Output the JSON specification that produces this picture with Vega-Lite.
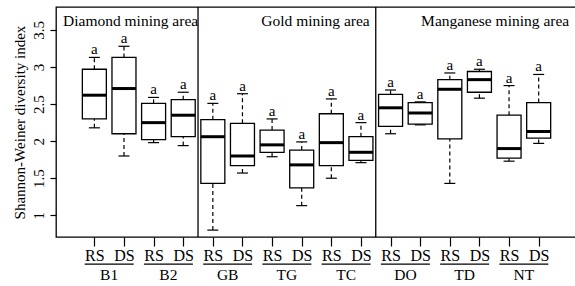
{
  "$schema": "https://vega.github.io/schema/vega-lite/v6.json",
  "width": 525,
  "height": 230,
  "autosize": {"type": "none"},
  "padding": {"left": 56, "top": 7, "right": 0, "bottom": 49},
  "background": "white",
  "config": {
    "font": "Liberation Serif",
    "view": {"stroke": "#000", "strokeWidth": 1.3},
    "axis": {"domain": false, "grid": false, "tickColor": "#000", "labelColor": "#000", "titleColor": "#000", "labelFont": "Liberation Serif", "titleFont": "Liberation Serif"},
    "text": {"font": "Liberation Serif", "color": "#000"}
  },
  "datasets": {
    "boxes": [
      {"site": "B1", "trt": "RS", "p": 1, "min": 2.18, "q1": 2.30, "med": 2.62, "q3": 2.97, "max": 3.13},
      {"site": "B1", "trt": "DS", "p": 2, "min": 1.80, "q1": 2.10, "med": 2.71, "q3": 3.13, "max": 3.28},
      {"site": "B2", "trt": "RS", "p": 3, "min": 1.98, "q1": 2.02, "med": 2.25, "q3": 2.51, "max": 2.59},
      {"site": "B2", "trt": "DS", "p": 4, "min": 1.94, "q1": 2.06, "med": 2.35, "q3": 2.56, "max": 2.66},
      {"site": "GB", "trt": "RS", "p": 5, "min": 0.80, "q1": 1.43, "med": 2.06, "q3": 2.29, "max": 2.51},
      {"site": "GB", "trt": "DS", "p": 6, "min": 1.57, "q1": 1.67, "med": 1.80, "q3": 2.24, "max": 2.64},
      {"site": "TG", "trt": "RS", "p": 7, "min": 1.79, "q1": 1.85, "med": 1.95, "q3": 2.15, "max": 2.30},
      {"site": "TG", "trt": "DS", "p": 8, "min": 1.13, "q1": 1.37, "med": 1.68, "q3": 1.88, "max": 1.99},
      {"site": "TC", "trt": "RS", "p": 9, "min": 1.50, "q1": 1.67, "med": 1.98, "q3": 2.37, "max": 2.57},
      {"site": "TC", "trt": "DS", "p": 10, "min": 1.71, "q1": 1.74, "med": 1.85, "q3": 2.06, "max": 2.25},
      {"site": "DO", "trt": "RS", "p": 11, "min": 2.10, "q1": 2.20, "med": 2.45, "q3": 2.63, "max": 2.69},
      {"site": "DO", "trt": "DS", "p": 12, "min": 2.22, "q1": 2.23, "med": 2.38, "q3": 2.52, "max": 2.53},
      {"site": "TD", "trt": "RS", "p": 13, "min": 1.43, "q1": 2.03, "med": 2.70, "q3": 2.83, "max": 2.92},
      {"site": "TD", "trt": "DS", "p": 14, "min": 2.58, "q1": 2.66, "med": 2.83, "q3": 2.94, "max": 2.97},
      {"site": "NT", "trt": "RS", "p": 15, "min": 1.73, "q1": 1.77, "med": 1.90, "q3": 2.35, "max": 2.75},
      {"site": "NT", "trt": "DS", "p": 16, "min": 1.97, "q1": 2.04, "med": 2.13, "q3": 2.52, "max": 2.90}
    ],
    "sites": [
      {"site": "B1", "pos": 1.5},
      {"site": "B2", "pos": 3.5},
      {"site": "GB", "pos": 5.5},
      {"site": "TG", "pos": 7.5},
      {"site": "TC", "pos": 9.5},
      {"site": "DO", "pos": 11.5},
      {"site": "TD", "pos": 13.5},
      {"site": "NT", "pos": 15.5}
    ],
    "dividers": [{"div": 4.5}, {"div": 10.5}]
  },
  "layer": [
    {
      "data": {"name": "boxes"},
      "mark": {"type": "rule", "strokeDash": [4, 3], "strokeWidth": 1.2, "color": "#000"},
      "encoding": {
        "x": {"field": "p", "type": "quantitative", "scale": {"domain": [-0.126, 17.26], "nice": false, "zero": false},
          "axis": {"values": [1,2,3,4,5,6,7,8,9,10,11,12,13,14,15,16], "tickCount": 40, "labelExpr": "datum.value % 2 == 1 ? 'RS' : 'DS'", "labelOverlap": false, "labelBound": false, "labelFlush": false, "title": null, "tickSize": 9, "tickWidth": 1.2, "labelFontSize": 16, "labelPadding": 1}},
        "y": {"field": "q3", "type": "quantitative", "scale": {"domain": [0.707, 3.81], "nice": false, "zero": false},
          "axis": {"values": [1, 1.5, 2, 2.5, 3, 3.5], "tickCount": 20, "format": "~g", "labelOverlap": false, "labelAngle": -90, "labelFontSize": 15, "labelPadding": 4, "tickSize": 6, "tickWidth": 1.2, "title": "Shannon-Weiner diversity index", "titleFontSize": 15, "titleFontWeight": "normal", "titlePadding": 4}},
        "y2": {"field": "max"}
      }
    },
    {
      "data": {"name": "boxes"},
      "mark": {"type": "rule", "strokeDash": [4, 3], "strokeWidth": 1.2, "color": "#000"},
      "encoding": {
        "x": {"field": "p", "type": "quantitative"},
        "y": {"field": "min", "type": "quantitative"},
        "y2": {"field": "q1"}
      }
    },
    {
      "data": {"name": "boxes"},
      "mark": {"type": "rule", "strokeWidth": 1.2, "color": "#000", "xOffset": -5.5, "x2Offset": 5.5},
      "encoding": {
        "x": {"field": "p", "type": "quantitative"},
        "x2": {"field": "p"},
        "y": {"field": "max", "type": "quantitative"}
      }
    },
    {
      "data": {"name": "boxes"},
      "mark": {"type": "rule", "strokeWidth": 1.2, "color": "#000", "xOffset": -5.5, "x2Offset": 5.5},
      "encoding": {
        "x": {"field": "p", "type": "quantitative"},
        "x2": {"field": "p"},
        "y": {"field": "min", "type": "quantitative"}
      }
    },
    {
      "data": {"name": "boxes"},
      "mark": {"type": "bar", "orient": "vertical", "width": 24, "fill": "white", "stroke": "#000", "strokeWidth": 1.3},
      "encoding": {
        "x": {"field": "p", "type": "quantitative"},
        "y": {"field": "q1", "type": "quantitative"},
        "y2": {"field": "q3"}
      }
    },
    {
      "data": {"name": "boxes"},
      "mark": {"type": "rule", "strokeWidth": 3, "color": "#000", "xOffset": -12, "x2Offset": 12},
      "encoding": {
        "x": {"field": "p", "type": "quantitative"},
        "x2": {"field": "p"},
        "y": {"field": "med", "type": "quantitative"}
      }
    },
    {
      "data": {"name": "boxes"},
      "mark": {"type": "text", "baseline": "alphabetic", "align": "center", "dy": -3, "fontSize": 15},
      "encoding": {
        "x": {"field": "p", "type": "quantitative"},
        "y": {"field": "max", "type": "quantitative"},
        "text": {"value": "a"}
      }
    },
    {
      "data": {"name": "dividers"},
      "mark": {"type": "rule", "strokeWidth": 1.3, "color": "#000"},
      "encoding": {
        "x": {"field": "div", "type": "quantitative"}
      }
    },
    {
      "data": {"name": "sites"},
      "mark": {"type": "rule", "strokeWidth": 1.2, "color": "#000", "xOffset": -24.5, "x2Offset": 24.5},
      "encoding": {
        "x": {"field": "pos", "type": "quantitative"},
        "x2": {"field": "pos"},
        "y": {"datum": 0.342}
      }
    },
    {
      "data": {"name": "sites"},
      "mark": {"type": "text", "baseline": "middle", "align": "center", "fontSize": 15.5},
      "encoding": {
        "x": {"field": "pos", "type": "quantitative"},
        "y": {"datum": 0.19},
        "text": {"field": "site"}
      }
    },
    {
      "data": {"values": [{"t": "Diamond mining area"}]},
      "mark": {"type": "text", "baseline": "alphabetic", "align": "left", "dx": 2, "fontSize": 15.5},
      "encoding": {"x": {"datum": -0.126}, "y": {"datum": 3.55}, "text": {"field": "t"}}
    },
    {
      "data": {"values": [{"t": "Gold mining area"}]},
      "mark": {"type": "text", "baseline": "alphabetic", "align": "right", "dx": -6, "fontSize": 15.5},
      "encoding": {"x": {"datum": 10.5}, "y": {"datum": 3.55}, "text": {"field": "t"}}
    },
    {
      "data": {"values": [{"t": "Manganese mining area"}]},
      "mark": {"type": "text", "baseline": "alphabetic", "align": "right", "fontSize": 15.5},
      "encoding": {"x": {"datum": 17.03}, "y": {"datum": 3.55}, "text": {"field": "t"}}
    }
  ]
}
